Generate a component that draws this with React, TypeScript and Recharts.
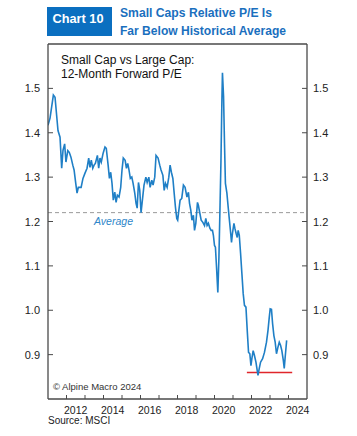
import { LineChart, Line, XAxis, YAxis, ReferenceLine } from "recharts";

// decimal years
const DATES = [
  2011.0, 2011.11, 2011.29, 2011.38, 2011.54, 2011.65, 2011.74, 2011.81, 2011.9, 2011.97,
  2012.07, 2012.15, 2012.24, 2012.34, 2012.41, 2012.5, 2012.57, 2012.64, 2012.79, 2012.89,
  2013.0, 2013.11, 2013.2, 2013.27, 2013.34, 2013.42, 2013.49, 2013.56, 2013.67, 2013.74,
  2013.81, 2013.88, 2013.98, 2014.08, 2014.15, 2014.25, 2014.32, 2014.39, 2014.46, 2014.53,
  2014.61, 2014.68, 2014.75, 2014.84, 2014.93, 2015.0, 2015.07, 2015.17, 2015.24, 2015.31,
  2015.38, 2015.45, 2015.53, 2015.6, 2015.69, 2015.76, 2015.82, 2015.89, 2015.96, 2016.03,
  2016.12, 2016.19, 2016.29, 2016.36, 2016.45, 2016.52, 2016.61, 2016.68, 2016.77, 2016.84,
  2016.95, 2017.04, 2017.11, 2017.21, 2017.28, 2017.35, 2017.44, 2017.53, 2017.6, 2017.67,
  2017.75, 2017.82, 2017.89, 2017.96, 2018.01, 2018.14, 2018.23, 2018.32, 2018.41, 2018.51,
  2018.59, 2018.65, 2018.72, 2018.78, 2018.86, 2018.92, 2018.99, 2019.08, 2019.13, 2019.21,
  2019.28, 2019.37, 2019.46, 2019.53, 2019.6, 2019.67, 2019.75, 2019.82, 2019.89, 2019.94,
  2020.0, 2020.05, 2020.11, 2020.18, 2020.24, 2020.29, 2020.35, 2020.4, 2020.43, 2020.49,
  2020.54, 2020.59, 2020.67, 2020.74, 2020.79, 2020.86, 2020.92, 2020.97, 2021.05, 2021.1,
  2021.17, 2021.23, 2021.28, 2021.34, 2021.41, 2021.48, 2021.55, 2021.62, 2021.7, 2021.77,
  2021.84, 2021.91, 2021.97, 2022.02, 2022.09, 2022.16, 2022.24, 2022.31, 2022.35, 2022.42,
  2022.49, 2022.6, 2022.7, 2022.81, 2022.89, 2022.96, 2023.01, 2023.08, 2023.14, 2023.21,
  2023.28, 2023.35, 2023.43, 2023.5, 2023.57, 2023.64, 2023.72, 2023.77, 2023.82, 2023.9
];

// small cap vs large cap 12m forward P/E
const PE_RATIO = [
  1.417, 1.433, 1.485, 1.48, 1.405, 1.39, 1.32, 1.36, 1.375, 1.334,
  1.36, 1.356, 1.345, 1.327, 1.316, 1.286, 1.264, 1.277, 1.277, 1.297,
  1.309, 1.32, 1.343, 1.322, 1.338, 1.32, 1.327, 1.331, 1.349, 1.32,
  1.343, 1.334, 1.354, 1.368, 1.365, 1.327, 1.297, 1.311, 1.286, 1.248,
  1.266, 1.243, 1.259, 1.255, 1.277, 1.316, 1.343, 1.338, 1.32, 1.331,
  1.316, 1.297, 1.3, 1.286, 1.264, 1.241, 1.23, 1.288, 1.27, 1.22,
  1.255, 1.282, 1.3, 1.288, 1.3, 1.277, 1.293, 1.282, 1.3, 1.349,
  1.343, 1.327, 1.316, 1.304, 1.27, 1.286, 1.277, 1.3, 1.327, 1.311,
  1.297, 1.264, 1.232, 1.207, 1.203, 1.248, 1.252, 1.282, 1.277, 1.255,
  1.266, 1.241, 1.225, 1.203, 1.214, 1.18, 1.196, 1.243, 1.236, 1.218,
  1.203, 1.198, 1.191, 1.207, 1.191, 1.196, 1.185, 1.18, 1.18, 1.169,
  1.146, 1.142, 1.097, 1.04, 1.12, 1.218, 1.338, 1.474, 1.535, 1.481,
  1.377, 1.286, 1.264, 1.232, 1.21, 1.18, 1.153, 1.173, 1.196, 1.185,
  1.173, 1.164, 1.18, 1.169, 1.128, 1.083, 1.038, 1.011, 1.007, 0.954,
  0.905, 0.902, 0.875, 0.891, 0.909, 0.898, 0.883, 0.864, 0.853, 0.869,
  0.883, 0.891, 0.905, 0.928, 0.954, 0.984, 1.003, 1.002, 0.97, 0.943,
  0.928, 0.902, 0.917, 0.928, 0.921, 0.909, 0.887, 0.869, 0.894, 0.932
];

const YEAR_TICKS = [2012, 2013, 2014, 2015, 2016, 2017, 2018, 2019, 2020, 2021, 2022, 2023, 2024];
const YEAR_LABELS = [2012, 2014, 2016, 2018, 2020, 2022, 2024];
const Y_TICKS = [0.9, 1.0, 1.1, 1.2, 1.3, 1.4, 1.5];

const AVERAGE = 1.22;
const LOW_LINE = 0.86;
const LOW_FROM = 2021.75;
const LOW_TO = 2024.2;

const data = DATES.map((date, i) => ({ date, ratio: PE_RATIO[i] }));

const AXIS = "#4a4a4a";
const LINE = "#1f7fc6";
const FONT = "'Liberation Sans', Arial, sans-serif";

function XTick(props: any) {
  const { x, y, payload } = props;
  const show = YEAR_LABELS.includes(payload.value);
  return (
    <g>
      <line x1={x} x2={x} y1={y} y2={y - 4} stroke={AXIS} strokeWidth={1} />
      {show && (
        <text x={x + 9.2} y={y + 15} textAnchor="middle" fontSize={10.5} fill="#222" fontFamily={FONT}>
          {payload.value}
        </text>
      )}
    </g>
  );
}

function LeftTick(props: any) {
  const { x, y, payload } = props;
  return (
    <g>
      <line x1={x} x2={x + 5} y1={y} y2={y} stroke={AXIS} strokeWidth={1} />
      <text x={x - 8} y={y + 4} textAnchor="end" fontSize={11} fill="#222" fontFamily={FONT}>
        {payload.value.toFixed(1)}
      </text>
    </g>
  );
}

function RightTick(props: any) {
  const { x, y, payload } = props;
  return (
    <g>
      <line x1={x - 5} x2={x} y1={y} y2={y} stroke={AXIS} strokeWidth={1} />
      <text x={x + 6} y={y + 4} textAnchor="start" fontSize={11} fill="#222" fontFamily={FONT}>
        {payload.value.toFixed(1)}
      </text>
    </g>
  );
}

function AverageLabel(props: any) {
  const { viewBox } = props;
  return (
    <text
      x={viewBox.x + 46}
      y={viewBox.y + 12}
      fontSize={11}
      fontStyle="italic"
      fill="#2e86c9"
      fontFamily={FONT}
      textLength={39}
      lengthAdjust="spacingAndGlyphs"
    >
      Average
    </text>
  );
}

export default function App() {
  return (
    <div style={{ position: "absolute", left: 0, top: 0, width: 357, height: 436, background: "#fff" }}>
      <LineChart
        width={357}
        height={436}
        data={data}
        margin={{ top: 44, right: 10, left: 8, bottom: 0 }}
      >
        <XAxis
          dataKey="date"
          type="number"
          domain={[2011, 2025]}
          ticks={YEAR_TICKS}
          interval={0}
          allowDataOverflow
          height={37}
          tickLine={false}
          tickSize={0}
          tickMargin={0}
          axisLine={{ stroke: AXIS, strokeWidth: 1.3 }}
          tick={<XTick />}
        />
        <YAxis
          yAxisId="left"
          orientation="left"
          type="number"
          domain={[0.8, 1.6]}
          ticks={Y_TICKS}
          interval={0}
          allowDataOverflow
          width={40}
          tickLine={false}
          tickSize={0}
          tickMargin={0}
          axisLine={{ stroke: AXIS, strokeWidth: 1.3 }}
          tick={<LeftTick />}
        />
        <YAxis
          yAxisId="right"
          orientation="right"
          type="number"
          domain={[0.8, 1.6]}
          ticks={Y_TICKS}
          interval={0}
          allowDataOverflow
          width={40}
          tickLine={false}
          tickSize={0}
          tickMargin={0}
          axisLine={{ stroke: AXIS, strokeWidth: 1.3 }}
          tick={<RightTick />}
        />
        <ReferenceLine yAxisId="left" y={1.6} stroke={AXIS} strokeWidth={1.3} />
        <ReferenceLine
          yAxisId="left"
          y={AVERAGE}
          stroke="#9a9a9a"
          strokeDasharray="4 3"
          strokeWidth={1}
          label={<AverageLabel />}
        />
        <ReferenceLine
          yAxisId="left"
          segment={[
            { x: LOW_FROM, y: LOW_LINE },
            { x: LOW_TO, y: LOW_LINE }
          ]}
          stroke="#e0262b"
          strokeWidth={1.5}
        />
        <Line
          yAxisId="left"
          type="linear"
          dataKey="ratio"
          stroke={LINE}
          strokeWidth={1.6}
          dot={false}
          isAnimationActive={false}
        />
      </LineChart>
      <svg
        width={357}
        height={436}
        style={{ position: "absolute", left: 0, top: 0, pointerEvents: "none" }}
      >
        <rect x={47} y={7} width={65} height={29} fill="#0b6fc0" />
        <text
          x={52.5}
          y={22.5}
          fill="#fff"
          fontSize={13.5}
          fontWeight="bold"
          fontFamily="'Liberation Sans Narrow', 'Liberation Sans', Arial, sans-serif"
          textLength={51}
          lengthAdjust="spacingAndGlyphs"
        >
          Chart 10
        </text>
        <text
          x={120}
          y={17}
          fill="#1a6fbe"
          fontSize={13}
          fontWeight="bold"
          fontFamily="'Liberation Sans Narrow', 'Liberation Sans', Arial, sans-serif"
          textLength={152}
          lengthAdjust="spacingAndGlyphs"
        >
          Small Caps Relative P/E Is
        </text>
        <text
          x={120}
          y={35}
          fill="#1a6fbe"
          fontSize={13}
          fontWeight="bold"
          fontFamily="'Liberation Sans Narrow', 'Liberation Sans', Arial, sans-serif"
          textLength={166}
          lengthAdjust="spacingAndGlyphs"
        >
          Far Below Historical Average
        </text>
        <text x={61} y={63.5} fontSize={12} fill="#111" fontFamily={FONT}>
          Small Cap vs Large Cap:
        </text>
        <text x={61} y={77.5} fontSize={12} fill="#111" fontFamily={FONT}>
          12-Month Forward P/E
        </text>
        <text x={53} y={390} fontSize={9.5} fill="#333" fontFamily={FONT}>
          © Alpine Macro 2024
        </text>
        <text x={48} y={424} fontSize={10} fill="#222" fontFamily={FONT}>
          Source: MSCI
        </text>
      </svg>
    </div>
  );
}
